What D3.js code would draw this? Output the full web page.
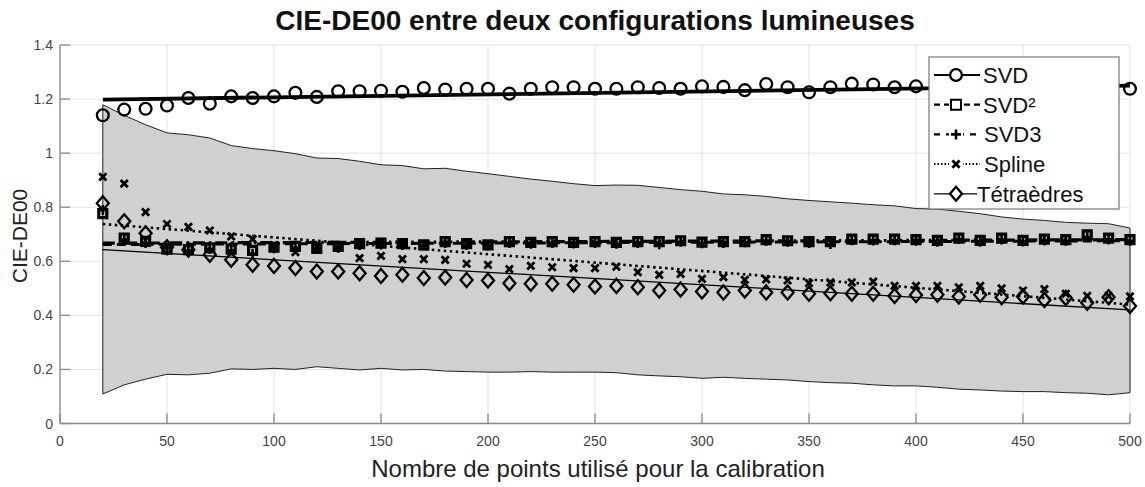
<!DOCTYPE html>
<html>
<head>
<meta charset="utf-8">
<script src="https://cdn.jsdelivr.net/npm/d3@7"></script>
<style>
  html, body { margin: 0; padding: 0; background: #fff; }
  svg { display: block; font-family: "Liberation Sans", Arial, sans-serif; }
</style>
</head>
<body>
<svg id="chart" width="1145" height="487"></svg>
<script>
// Number of calibration points
const nPoints = [20, 30, 40, 50, 60, 70, 80, 90, 100, 110, 120, 130, 140, 150, 160, 170, 180, 190, 200, 210,
  220, 230, 240, 250, 260, 270, 280, 290, 300, 310, 320, 330, 340, 350, 360, 370, 380, 390, 400, 410,
  420, 430, 440, 450, 460, 470, 480, 490, 500];

// Mean CIE-DE00 per method
const svd = [1.140, 1.161, 1.164, 1.176, 1.204, 1.183, 1.210, 1.204, 1.210, 1.223, 1.208, 1.229, 1.229, 1.231, 1.227, 1.241, 1.235, 1.238, 1.238, 1.220,
  1.238, 1.244, 1.244, 1.238, 1.238, 1.244, 1.241, 1.238, 1.247, 1.245, 1.233, 1.256, 1.244, 1.225, 1.244, 1.257, 1.254, 1.244, 1.247, 1.250,
  1.248, 1.252, 1.246, 1.251, 1.249, 1.253, 1.247, 1.252, 1.238];
const svd2 = [0.776, 0.686, 0.674, 0.645, 0.643, 0.650, 0.645, 0.640, 0.652, 0.655, 0.648, 0.655, 0.665, 0.667, 0.665, 0.661, 0.673, 0.665, 0.661, 0.673,
  0.670, 0.673, 0.670, 0.673, 0.670, 0.673, 0.673, 0.676, 0.671, 0.673, 0.673, 0.680, 0.676, 0.673, 0.673, 0.682, 0.682, 0.682, 0.680, 0.677,
  0.686, 0.677, 0.686, 0.677, 0.682, 0.680, 0.698, 0.686, 0.680];
const svd3 = [0.790, 0.680, 0.668, 0.648, 0.640, 0.645, 0.640, 0.628, 0.648, 0.650, 0.645, 0.650, 0.660, 0.662, 0.660, 0.658, 0.668, 0.660, 0.658, 0.668,
  0.665, 0.668, 0.666, 0.668, 0.665, 0.668, 0.663, 0.672, 0.667, 0.668, 0.670, 0.676, 0.672, 0.668, 0.664, 0.678, 0.677, 0.678, 0.676, 0.672,
  0.682, 0.672, 0.681, 0.673, 0.677, 0.676, 0.690, 0.681, 0.676];
const spline = [0.912, 0.887, 0.782, 0.738, 0.727, 0.714, 0.692, 0.682, 0.660, 0.634, 0.655, 0.650, 0.612, 0.620, 0.608, 0.608, 0.605, 0.591, 0.587, 0.571,
  0.583, 0.578, 0.575, 0.575, 0.580, 0.560, 0.550, 0.553, 0.535, 0.541, 0.531, 0.533, 0.529, 0.519, 0.522, 0.522, 0.525, 0.509, 0.509, 0.509,
  0.504, 0.509, 0.500, 0.492, 0.497, 0.480, 0.472, 0.472, 0.470];
const tetra = [0.815, 0.748, 0.704, 0.652, 0.643, 0.624, 0.606, 0.587, 0.583, 0.575, 0.562, 0.562, 0.556, 0.546, 0.550, 0.538, 0.540, 0.531, 0.529, 0.519,
  0.517, 0.517, 0.513, 0.507, 0.509, 0.504, 0.492, 0.496, 0.488, 0.485, 0.492, 0.485, 0.485, 0.480, 0.482, 0.480, 0.480, 0.472, 0.475, 0.476,
  0.470, 0.476, 0.467, 0.470, 0.457, 0.464, 0.447, 0.467, 0.435];

// Spread envelope (upper / lower bounds)
const bandUpper = [1.179, 1.140, 1.105, 1.075, 1.068, 1.056, 1.028, 1.017, 1.009, 0.998, 0.982, 0.980, 0.970, 0.957, 0.954, 0.942, 0.944, 0.933, 0.924, 0.914,
  0.904, 0.896, 0.887, 0.880, 0.882, 0.881, 0.873, 0.865, 0.859, 0.849, 0.846, 0.840, 0.831, 0.825, 0.820, 0.815, 0.809, 0.805, 0.795, 0.793,
  0.785, 0.776, 0.764, 0.756, 0.751, 0.744, 0.741, 0.739, 0.723];
const bandLower = [0.109, 0.143, 0.164, 0.182, 0.180, 0.186, 0.202, 0.200, 0.204, 0.200, 0.210, 0.204, 0.198, 0.204, 0.198, 0.200, 0.194, 0.192, 0.190, 0.190,
  0.192, 0.190, 0.190, 0.190, 0.188, 0.180, 0.176, 0.173, 0.167, 0.171, 0.167, 0.164, 0.161, 0.155, 0.151, 0.149, 0.143, 0.139, 0.139, 0.134,
  0.127, 0.124, 0.120, 0.118, 0.118, 0.114, 0.112, 0.106, 0.114];

// Linear trend of each method: [value at 20, value at 500]
const trendX = [20, 500];
const trendSVD = [1.198, 1.250];
const trendSVD2 = [0.667, 0.680];
const trendSVD3 = [0.662, 0.676];
const trendSpline = [0.738, 0.440];
const trendTetra = [0.643, 0.420];

const xTicks = [0, 50, 100, 150, 200, 250, 300, 350, 400, 450, 500];
const yTicks = [0, 0.2, 0.4, 0.6, 0.8, 1, 1.2, 1.4];

const legendLabels = ["SVD", "SVD²", "SVD3", "Spline", "Tétraèdres"];

const svg = d3.select("#chart");
const m = { left: 60, right: 1130, top: 45, bottom: 423.5 };

const x = d3.scaleLinear().domain([0, 500]).range([m.left, m.right]);
const y = d3.scaleLinear().domain([0, 1.4]).range([m.bottom, m.top]);

// Grid
const grid = svg.append("g");
grid.selectAll(".gx").data(xTicks).join("line")
  .attr("x1", d => x(d)).attr("x2", d => x(d))
  .attr("y1", m.top).attr("y2", m.bottom)
  .attr("stroke", "#e3e3e3").attr("stroke-width", 1);
grid.selectAll(".gy").data(yTicks).join("line")
  .attr("x1", m.left).attr("x2", m.right)
  .attr("y1", d => y(d)).attr("y2", d => y(d))
  .attr("stroke", "#e3e3e3").attr("stroke-width", 1);

// Spread envelope
const bandData = nPoints.map((n, i) => ({ n, lo: bandLower[i], hi: bandUpper[i] }));
svg.append("path")
  .datum(bandData)
  .attr("d", d3.area().x(d => x(d.n)).y0(d => y(d.lo)).y1(d => y(d.hi)))
  .attr("fill", "#d0d0d0")
  .attr("stroke", "#222")
  .attr("stroke-width", 1);

// Trend lines
function trend(vals, width, dash) {
  svg.append("path")
    .datum(trendX.map((n, i) => [n, vals[i]]))
    .attr("d", d3.line().x(d => x(d[0])).y(d => y(d[1])))
    .attr("fill", "none")
    .attr("stroke", "#000")
    .attr("stroke-width", width)
    .attr("stroke-dasharray", dash);
}
trend(trendTetra, 1.3, null);
trend(trendSpline, 2.6, "2.5,3.5");
trend(trendSVD3, 3, "9,5");
trend(trendSVD2, 3.2, "12,4,2.5,4");
trend(trendSVD, 3.8, null);

function markerGlyph(g, shape) {
  if (shape === "plus") {
    g.append("path").attr("d", "M-5,0H5M0,-5V5").attr("stroke", "#000").attr("stroke-width", 2.6).attr("fill", "none");
  } else if (shape === "x") {
    g.append("path").attr("d", "M-3.6,-3.6L3.6,3.6M-3.6,3.6L3.6,-3.6").attr("stroke", "#000").attr("stroke-width", 2.8).attr("fill", "none");
  } else if (shape === "diamond") {
    g.append("path").attr("d", "M0,-7L6,0L0,7L-6,0Z").attr("stroke", "#000").attr("stroke-width", 2.3).attr("fill", "none");
  } else if (shape === "square") {
    g.append("path").attr("d", "M-4,-4H4V4H-4Z").attr("stroke", "#000").attr("stroke-width", 3.2).attr("fill", "none");
  } else if (shape === "squareOpen") {
    g.append("path").attr("d", "M-5,-5H5V5H-5Z").attr("stroke", "#000").attr("stroke-width", 2).attr("fill", "none");
  } else {
    g.append("circle").attr("r", 5.9).attr("stroke", "#000").attr("stroke-width", 2.3).attr("fill", "none");
  }
}

function markers(vals, shape) {
  const g = svg.append("g");
  g.selectAll("g").data(nPoints.map((n, i) => [n, vals[i]])).join("g")
    .attr("transform", d => `translate(${x(d[0])},${y(d[1])})`)
    .each(function () { markerGlyph(d3.select(this), shape); });
}
markers(svd3, "plus");
markers(svd2, "square");
markers(spline, "x");
markers(tetra, "diamond");
markers(svd, "circle");

// Axes (left and bottom, ticks inward)
const axisColor = "#888";
svg.append("line").attr("x1", m.left).attr("x2", m.right).attr("y1", m.bottom).attr("y2", m.bottom)
  .attr("stroke", axisColor).attr("stroke-width", 1.3);
svg.append("line").attr("x1", m.left).attr("x2", m.left).attr("y1", m.top).attr("y2", m.bottom)
  .attr("stroke", axisColor).attr("stroke-width", 1.3);
svg.selectAll(".tx").data(xTicks).join("line")
  .attr("x1", d => x(d)).attr("x2", d => x(d)).attr("y1", m.bottom).attr("y2", m.bottom - 10)
  .attr("stroke", axisColor).attr("stroke-width", 1.3);
svg.selectAll(".ty").data(yTicks).join("line")
  .attr("x1", m.left).attr("x2", m.left + 10).attr("y1", d => y(d)).attr("y2", d => y(d))
  .attr("stroke", axisColor).attr("stroke-width", 1.3);

svg.selectAll(".lx").data(xTicks).join("text")
  .attr("x", d => x(d)).attr("y", m.bottom + 22)
  .attr("text-anchor", "middle").attr("font-size", 14).attr("fill", "#444")
  .text(d => d);
svg.selectAll(".ly").data(yTicks).join("text")
  .attr("x", m.left - 7).attr("y", d => y(d) + 5)
  .attr("text-anchor", "end").attr("font-size", 14).attr("fill", "#444")
  .text(d => d);

// Titles
svg.append("text").attr("x", 595).attr("y", 30)
  .attr("text-anchor", "middle").attr("font-size", 28).attr("font-weight", "bold").attr("fill", "#111")
  .text("CIE-DE00 entre deux configurations lumineuses");
svg.append("text").attr("x", 598).attr("y", 477)
  .attr("text-anchor", "middle").attr("font-size", 24).attr("fill", "#222")
  .text("Nombre de points utilisé pour la calibration");
svg.append("text").attr("transform", "translate(27,236) rotate(-90)")
  .attr("text-anchor", "middle").attr("font-size", 21).attr("fill", "#222")
  .text("CIE-DE00");

// Legend
const lg = svg.append("g");
lg.append("rect").attr("x", 929).attr("y", 57).attr("width", 190).attr("height", 152)
  .attr("fill", "#fff").attr("stroke", "#777").attr("stroke-width", 1.2);
const legendStyle = [
  { shape: "circle", width: 2.2, dash: null, x2: 980, tx: 983 },
  { shape: "squareOpen", width: 2.2, dash: "6,4", x2: 980, tx: 983 },
  { shape: "plus", width: 2.2, dash: "6,6", x2: 980, tx: 984 },
  { shape: "x", width: 2, dash: "1.5,2", x2: 980, tx: 984 },
  { shape: "diamond", width: 1.3, dash: null, x2: 977, tx: 977 }
];
legendLabels.forEach((label, i) => {
  const s = legendStyle[i];
  const cy = 75 + i * 29.7;
  lg.append("line").attr("x1", 934).attr("x2", s.x2).attr("y1", cy).attr("y2", cy)
    .attr("stroke", "#000").attr("stroke-width", s.width).attr("stroke-dasharray", s.dash);
  const mk = lg.append("g").attr("transform", `translate(956,${cy})`);
  mk.append("rect").attr("x", -7).attr("y", -7).attr("width", 14).attr("height", 14).attr("fill", "#fff");
  markerGlyph(mk, s.shape);
  lg.append("text").attr("x", s.tx).attr("y", cy + 8).attr("font-size", 22).attr("fill", "#111").text(label);
});
</script>
</body>
</html>
